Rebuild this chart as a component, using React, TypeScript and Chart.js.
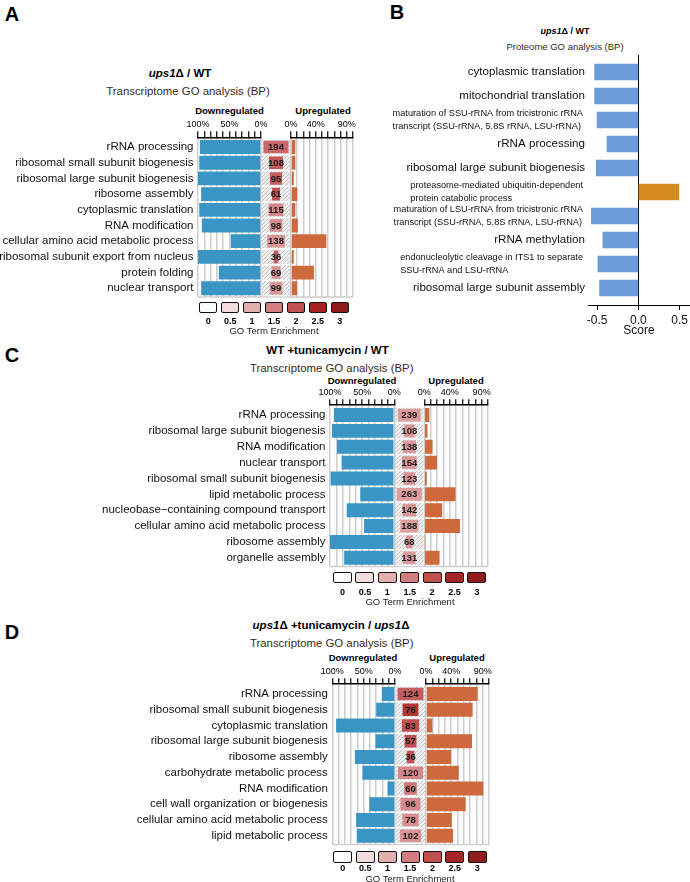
import React, { useEffect, useRef } from 'react';
import { Chart, registerables } from 'chart.js';

Chart.register(...registerables);

const FONT = '"Liberation Sans", Arial, Helvetica, sans-serif';

// ---------- Panel A data ----------
const A_LABELS = [
  'rRNA processing',
  'ribosomal small subunit biogenesis',
  'ribosomal large subunit biogenesis',
  'ribosome assembly',
  'cytoplasmic translation',
  'RNA modification',
  'cellular amino acid metabolic process',
  'ribosomal subunit export from nucleus',
  'protein folding',
  'nuclear transport',
];
const A_DOWN = [97, 98, 100, 95, 98, 94, 48, 100, 67, 95];
const A_UP = [7, 7, 4.5, 10, 7, 11, 57, 4.5, 37, 10];
const A_COUNT = [194, 108, 95, 61, 115, 98, 138, 36, 69, 99];
const A_ENRICH = [1.75, 1.9, 1.85, 2, 1.4, 1.35, 1.25, 1.9, 1.3, 1.25];

// ---------- Panel B data ----------
const B_LABELS: (string | string[])[] = [
  'cytoplasmic translation',
  'mitochondrial translation',
  ['maturation of SSU-rRNA from tricistronic rRNA', 'transcript (SSU-rRNA, 5.8S rRNA, LSU-rRNA)'],
  'rRNA processing',
  'ribosomal large subunit biogenesis',
  ['proteasome-mediated ubiquitin-dependent', 'protein catabolic process'],
  ['maturation of LSU-rRNA from tricistronic rRNA', 'transcript (SSU-rRNA, 5.8S rRNA, LSU-rRNA)'],
  'rRNA methylation',
  ['endonucleolytic cleavage in ITS1 to separate', 'SSU-rRNA and LSU-rRNA'],
  'ribosomal large subunit assembly',
];
const B_SCORE = [-0.53, -0.53, -0.5, -0.38, -0.51, 0.49, -0.57, -0.43, -0.49, -0.47];
const B_TICKS = [-0.5, 0, 0.5];

// ---------- Panel C data ----------
const C_LABELS = [
  'rRNA processing',
  'ribosomal large subunit biogenesis',
  'RNA modification',
  'nuclear transport',
  'ribosomal small subunit biogenesis',
  'lipid metabolic process',
  'nucleobase\u2212containing compound transport',
  'cellular amino acid metabolic process',
  'ribosome assembly',
  'organelle assembly',
];
const C_DOWN = [94, 97, 89, 82, 99, 53, 74, 47, 100, 78];
const C_UP = [8, 5, 13, 20, 4, 49, 28, 56, 2, 24];
const C_COUNT = [239, 108, 138, 154, 123, 263, 142, 188, 68, 131];
const C_ENRICH = [1.2, 1.3, 1.25, 1.25, 1.3, 1.2, 1.25, 1.15, 1.3, 1.2];

// ---------- Panel D data ----------
const D_LABELS = [
  'rRNA processing',
  'ribosomal small subunit biogenesis',
  'cytoplasmic translation',
  'ribosomal large subunit biogenesis',
  'ribosome assembly',
  'carbohydrate metabolic process',
  'RNA modification',
  'cell wall organization or biogenesis',
  'cellular amino acid metabolic process',
  'lipid metabolic process',
];
const D_DOWN = [21, 30, 94, 31, 64, 52, 12, 41, 62, 61];
const D_UP = [82, 74, 10, 73, 40, 52, 91, 63, 41, 43];
const D_COUNT = [124, 76, 83, 57, 36, 120, 60, 96, 78, 102];
const D_ENRICH = [1.85, 2.3, 2.0, 2.0, 1.95, 1.4, 1.6, 1.4, 1.35, 1.3];

// ---------- ticks / legend ----------
const DOWN_TICK_LABELS = [100, 50, 0];
const UP_TICK_LABELS = [0, 40, 90];
const LEGEND_VALUES = [0, 0.5, 1, 1.5, 2, 2.5, 3];
const LEGEND_COLORS = ['#ffffff', '#f3dcdc', '#e2afaf', '#d27e80', '#c04f50', '#a52323', '#8f1b1b'];

const BLUE = '#3b95c4';
const ORANGE = '#cd693c';
const B_BLUE = '#6e9bd9';
const B_ORANGE = '#d68b22';

function hexToRgb(h: string) {
  const n = parseInt(h.slice(1), 16);
  return [(n >> 16) & 255, (n >> 8) & 255, n & 255];
}
function enrichColor(v: number) {
  const vals = LEGEND_VALUES;
  if (v <= vals[0]) return LEGEND_COLORS[0];
  for (let i = 1; i < vals.length; i++) {
    if (v <= vals[i]) {
      const t = (v - vals[i - 1]) / (vals[i] - vals[i - 1]);
      const a = hexToRgb(LEGEND_COLORS[i - 1]);
      const b = hexToRgb(LEGEND_COLORS[i]);
      const c = a.map((x, k) => Math.round(x + (b[k] - x) * t));
      return `rgb(${c[0]},${c[1]},${c[2]})`;
    }
  }
  return LEGEND_COLORS[LEGEND_COLORS.length - 1];
}

function makeHatch(): any {
  const c = document.createElement('canvas');
  c.width = 4;
  c.height = 4;
  const g = c.getContext('2d');
  if (!g) return '#e6e6e6';
  g.fillStyle = '#eeeeee';
  g.fillRect(0, 0, 4, 4);
  g.strokeStyle = '#c6c6c6';
  g.lineWidth = 1;
  g.beginPath();
  g.moveTo(0, 4); g.lineTo(4, 0);
  g.moveTo(-1, 1); g.lineTo(1, -1);
  g.moveTo(3, 5); g.lineTo(5, 3);
  g.stroke();
  return g.createPattern(c, 'repeat') || '#e6e6e6';
}

const ROW_MIN = -0.62;
const ROW_MAX = 9.55;

const zeroPad = (s: any) => { s.paddingTop = 0; s.paddingBottom = 0; s.paddingLeft = 0; s.paddingRight = 0; };

const framePlugin = {
  id: 'frameBottom',
  beforeDatasetsDraw(chart: any) {
    const { ctx, chartArea } = chart;
    ctx.save();
    ctx.strokeStyle = '#cdcdcd';
    ctx.lineWidth = 1.5;
    ctx.beginPath();
    ctx.moveTo(chartArea.left, chartArea.bottom);
    ctx.lineTo(chartArea.right, chartArea.bottom);
    ctx.stroke();
    ctx.restore();
  },
};

function pctAxis(reverse: boolean, shown: number[], axisH: number) {
  return {
    type: 'linear',
    position: 'top',
    min: 0,
    max: 100,
    reverse,
    offset: false,
    afterFit: (s: any) => { s.height = axisH; zeroPad(s); },
    ticks: {
      stepSize: 10, autoSkip: false, maxRotation: 0, minRotation: 0, padding: 1,
      color: '#000', font: { family: FONT, size: 9 },
      callback: (v: any) => (shown.includes(v) ? v + '%' : ''),
    },
    grid: { color: '#cdcdcd', lineWidth: 1.5, tickColor: '#000', tickWidth: 1.2, tickLength: 6, drawOnChartArea: true, offset: false },
    border: { display: true, color: '#000', width: 1.5 },
  };
}

type Geom = { downLeft: number; downRight: number; midRight: number; upRight: number; top: number; bottom: number };

function GoPanel(props: { labels: string[]; down: number[]; up: number[]; counts: number[]; enrich: number[]; g: Geom }) {
  const { labels, down, up, counts, enrich, g } = props;
  const dRef = useRef<HTMLCanvasElement>(null);
  const mRef = useRef<HTMLCanvasElement>(null);
  const uRef = useRef<HTMLCanvasElement>(null);

  const cTop = Math.round(g.top - 42);
  const axisH = g.top - cTop;
  const H = Math.round(g.bottom + 4 - cTop);
  const padB = H - (g.bottom - cTop);
  const dW = Math.round(g.downRight + 9);
  const mL = Math.round(g.downRight - 5);
  const mW = Math.round(g.midRight + 5) - mL;
  const uL = Math.round(g.midRight - 10);
  const uW = Math.round(g.upRight + 15) - uL;

  useEffect(() => {
    const yHidden = { type: 'linear', display: false, min: ROW_MIN, max: ROW_MAX, reverse: true, offset: false, afterFit: zeroPad };
    const common = {
      animation: false, responsive: false, devicePixelRatio: 1, indexAxis: 'y',
      plugins: { legend: { display: false }, tooltip: { enabled: false } },
    };
    const charts: Chart[] = [];

    charts.push(new Chart(dRef.current as HTMLCanvasElement, {
      type: 'bar',
      data: {
        datasets: [{
          data: down.map((v, i) => ({ x: v, y: i })),
          backgroundColor: BLUE, barPercentage: 0.88, categoryPercentage: 1, borderWidth: 0,
        }],
      },
      options: {
        ...common,
        layout: { autoPadding: false, padding: { left: 0, right: dW - g.downRight, top: 0, bottom: padB } },
        scales: {
          x: pctAxis(true, DOWN_TICK_LABELS, axisH),
          y: {
            type: 'linear', position: 'left', min: ROW_MIN, max: ROW_MAX, reverse: true, offset: false,
            afterFit: (s: any) => { s.width = g.downLeft; zeroPad(s); },
            afterBuildTicks: (s: any) => { s.ticks = labels.map((_, i) => ({ value: i })); },
            ticks: {
              autoSkip: false, padding: 4.5, color: '#111', font: { family: FONT, size: 11.5 },
              callback: (v: any) => labels[v],
            },
            grid: { display: false, drawTicks: false },
            border: { display: false },
          },
        },
      } as any,
      plugins: [framePlugin],
    } as any));

    const M = Math.max(...counts) * 0.6;
    const hatch = makeHatch();
    const numberPlugin = {
      id: 'countLabels',
      afterDatasetsDraw(chart: any) {
        const meta = chart.getDatasetMeta(0);
        const ctx = chart.ctx;
        ctx.save();
        ctx.font = `bold 9.5px ${FONT}`;
        ctx.fillStyle = '#1a1a1a';
        ctx.textAlign = 'center';
        ctx.textBaseline = 'middle';
        meta.data.forEach((el: any, i: number) => {
          ctx.fillText(String(counts[i]), (el.x + el.base) / 2, el.y + 0.5);
        });
        ctx.restore();
      },
    };
    charts.push(new Chart(mRef.current as HTMLCanvasElement, {
      type: 'bar',
      data: {
        datasets: [
          {
            data: counts.map((c, i) => ({ x: [-c / 2, c / 2], y: i })),
            backgroundColor: enrich.map(enrichColor),
            barPercentage: 0.8, categoryPercentage: 1, grouped: false, order: 0, borderWidth: 0,
          },
          {
            data: labels.map((_, i) => ({ x: [-M, M], y: i })),
            backgroundColor: hatch, borderColor: '#ffffff', borderWidth: 1, borderSkipped: false,
            barPercentage: 1, categoryPercentage: 1, grouped: false, order: 1,
          },
        ],
      },
      options: {
        ...common,
        layout: { autoPadding: false, padding: { left: g.downRight - mL, right: mL + mW - g.midRight, top: axisH, bottom: padB } },
        scales: {
          x: { type: 'linear', display: false, min: -M, max: M, offset: false, afterFit: zeroPad },
          y: yHidden,
        },
      } as any,
      plugins: [framePlugin, numberPlugin],
    } as any));

    charts.push(new Chart(uRef.current as HTMLCanvasElement, {
      type: 'bar',
      data: {
        datasets: [{
          data: up.map((v, i) => ({ x: v, y: i })),
          backgroundColor: ORANGE, barPercentage: 0.88, categoryPercentage: 1, borderWidth: 0,
        }],
      },
      options: {
        ...common,
        layout: { autoPadding: false, padding: { left: g.midRight - uL, right: uL + uW - g.upRight, top: 0, bottom: padB } },
        scales: {
          x: pctAxis(false, UP_TICK_LABELS, axisH),
          y: yHidden,
        },
      } as any,
      plugins: [framePlugin],
    } as any));

    return () => { charts.forEach((c) => c.destroy()); };
  }, []);

  const cs = (l: number, w: number): React.CSSProperties => ({ position: 'absolute', left: l, top: cTop, width: w, height: H });
  return (
    <>
      <canvas ref={mRef} width={mW} height={H} style={cs(mL, mW)} />
      <canvas ref={dRef} width={dW} height={H} style={cs(0, dW)} />
      <canvas ref={uRef} width={uW} height={H} style={cs(uL, uW)} />
    </>
  );
}

function BPanel() {
  const ref = useRef<HTMLCanvasElement>(null);
  const L = 360, T = 50, W = 330, H = 290;
  const chartLeft = 588, chartTop = 55, chartBottom = 305;
  useEffect(() => {
    const labelPlugin = {
      id: 'bLabels',
      afterDraw(chart: any) {
        const ctx = chart.ctx;
        const ys = chart.scales.y;
        const right = chart.chartArea.left - 3;
        ctx.save();
        ctx.fillStyle = '#111';
        ctx.textBaseline = 'middle';
        B_LABELS.forEach((lab, i) => {
          const y = ys.getPixelForValue(i);
          if (Array.isArray(lab)) {
            ctx.font = `9.2px ${FONT}`;
            const w = Math.max(...lab.map((l) => ctx.measureText(l).width));
            ctx.textAlign = 'left';
            lab.forEach((l, j) => {
              ctx.fillText(l, right - 2 - w, y + (j - (lab.length - 1) / 2) * 12.5);
            });
          } else {
            ctx.font = `11.6px ${FONT}`;
            ctx.textAlign = 'right';
            ctx.fillText(lab, right, y);
          }
        });
        ctx.restore();
      },
    };
    const chart = new Chart(ref.current as HTMLCanvasElement, {
      type: 'bar',
      data: {
        datasets: [{
          data: B_SCORE.map((v, i) => ({ x: v, y: i })),
          backgroundColor: B_SCORE.map((v) => (v < 0 ? B_BLUE : B_ORANGE)),
          barThickness: 16, borderWidth: 0,
        }],
      },
      options: {
        animation: false, responsive: false, devicePixelRatio: 1, indexAxis: 'y',
        layout: { autoPadding: false, padding: { left: chartLeft - L, top: chartTop - T, right: 0, bottom: 0 } },
        plugins: { legend: { display: false }, tooltip: { enabled: false } },
        scales: {
          x: {
            type: 'linear', position: 'bottom', min: -0.61, max: 0.625, offset: false,
            afterFit: (s: any) => { s.height = T + H - chartBottom; zeroPad(s); },
            afterBuildTicks: (s: any) => { s.ticks = B_TICKS.map((v) => ({ value: v })); },
            ticks: {
              autoSkip: false, maxRotation: 0, padding: 3, color: '#111', font: { family: FONT, size: 12 },
              callback: (v: any) => Number(v).toFixed(1),
            },
            grid: {
              color: (c: any) => (c.tick && c.tick.value === 0 ? '#000' : 'rgba(0,0,0,0)'),
              lineWidth: 1, tickColor: '#000', tickLength: 5, offset: false,
            },
            border: { display: true, color: '#000', width: 1 },
            title: { display: true, text: 'Score', color: '#111', font: { family: FONT, size: 12 }, padding: { top: 0, bottom: 2 } },
          },
          y: { type: 'linear', display: false, min: -0.708, max: 9.708, reverse: true, offset: false, afterFit: zeroPad },
        },
      } as any,
      plugins: [labelPlugin],
    } as any);
    return () => chart.destroy();
  }, []);
  return <canvas ref={ref} width={W} height={H} style={{ position: 'absolute', left: L, top: T, width: W, height: H }} />;
}

function Txt(props: { x: number; y: number; size: number; bold?: boolean; color?: string; children: React.ReactNode }) {
  return (
    <div style={{
      position: 'absolute', left: props.x, top: props.y, transform: 'translate(-50%, -50%)',
      fontSize: props.size, fontWeight: props.bold ? 700 : 400, color: props.color || '#000',
      whiteSpace: 'nowrap', lineHeight: 1, fontFamily: FONT,
    }}>{props.children}</div>
  );
}

function Legend(props: { left: number; top: number; pitch: number; w: number; h: number; labelY: number; titleX: number; titleY: number }) {
  const { left, top, pitch, w, h, labelY, titleX, titleY } = props;
  return (
    <>
      {LEGEND_VALUES.map((v, i) => (
        <div key={'b' + i} style={{
          position: 'absolute', left: left + i * pitch, top, width: w, height: h, boxSizing: 'border-box',
          border: '1.6px solid #111', borderRadius: 2, background: LEGEND_COLORS[i],
        }} />
      ))}
      {LEGEND_VALUES.map((v, i) => (
        <Txt key={'l' + i} x={left + i * pitch + w / 2} y={labelY} size={9} bold>{String(v)}</Txt>
      ))}
      <Txt x={titleX} y={titleY} size={9.5} color="#222">GO Term Enrichment</Txt>
    </>
  );
}

const SUB = '#3b2820';

export default function App() {
  const gA: Geom = { downLeft: 198, downRight: 261, midRight: 291, upRight: 353, top: 137.3, bottom: 296.9 };
  const gC: Geom = { downLeft: 330, downRight: 394.3, midRight: 424.3, upRight: 488, top: 405.2, bottom: 566.5 };
  const gD: Geom = { downLeft: 332.3, downRight: 395, midRight: 426, upRight: 489, top: 684.2, bottom: 844.4 };
  return (
    <div style={{ position: 'absolute', left: 0, top: 0, width: 690, height: 882, background: '#fff', overflow: 'hidden', fontFamily: FONT }}>
      <Txt x={12} y={14} size={20} bold>A</Txt>
      <Txt x={397} y={12} size={20} bold>B</Txt>
      <Txt x={12} y={355} size={20} bold>C</Txt>
      <Txt x={12} y={632} size={20} bold>D</Txt>

      <Txt x={180} y={74} size={11.5} bold><i>ups1</i>Δ / WT</Txt>
      <Txt x={188} y={92} size={11.4} color={SUB}>Transcriptome GO analysis (BP)</Txt>
      <Txt x={229.5} y={111} size={9.5} bold>Downregulated</Txt>
      <Txt x={323} y={111} size={9.5} bold>Upregulated</Txt>
      <GoPanel labels={A_LABELS} down={A_DOWN} up={A_UP} counts={A_COUNT} enrich={A_ENRICH} g={gA} />
      <Legend left={199.3} top={301.7} pitch={21.9} w={18} h={11.6} labelY={320.7} titleX={274} titleY={331} />

      <Txt x={565} y={31} size={9} bold><i>ups1</i>Δ / WT</Txt>
      <Txt x={565} y={47} size={9.5} color={SUB}>Proteome GO analysis (BP)</Txt>
      <BPanel />

      <Txt x={327.5} y={351} size={11.5} bold>WT +tunicamycin / WT</Txt>
      <Txt x={331.7} y={369} size={11.4} color={SUB}>Transcriptome GO analysis (BP)</Txt>
      <Txt x={362} y={381} size={9.5} bold>Downregulated</Txt>
      <Txt x={456} y={381} size={9.5} bold>Upregulated</Txt>
      <GoPanel labels={C_LABELS} down={C_DOWN} up={C_UP} counts={C_COUNT} enrich={C_ENRICH} g={gC} />
      <Legend left={333} top={571.7} pitch={22.4} w={19} h={11.6} labelY={591.7} titleX={410} titleY={601.7} />

      <Txt x={331} y={626} size={11.5} bold><i>ups1</i>Δ +tunicamycin / <i>ups1</i>Δ</Txt>
      <Txt x={331.7} y={644} size={11.4} color={SUB}>Transcriptome GO analysis (BP)</Txt>
      <Txt x={363} y={658} size={9.5} bold>Downregulated</Txt>
      <Txt x={457} y={658} size={9.5} bold>Upregulated</Txt>
      <GoPanel labels={D_LABELS} down={D_DOWN} up={D_UP} counts={D_COUNT} enrich={D_ENRICH} g={gD} />
      <Legend left={333.3} top={851} pitch={22.4} w={19} h={11.6} labelY={868} titleX={410} titleY={878.7} />
    </div>
  );
}
